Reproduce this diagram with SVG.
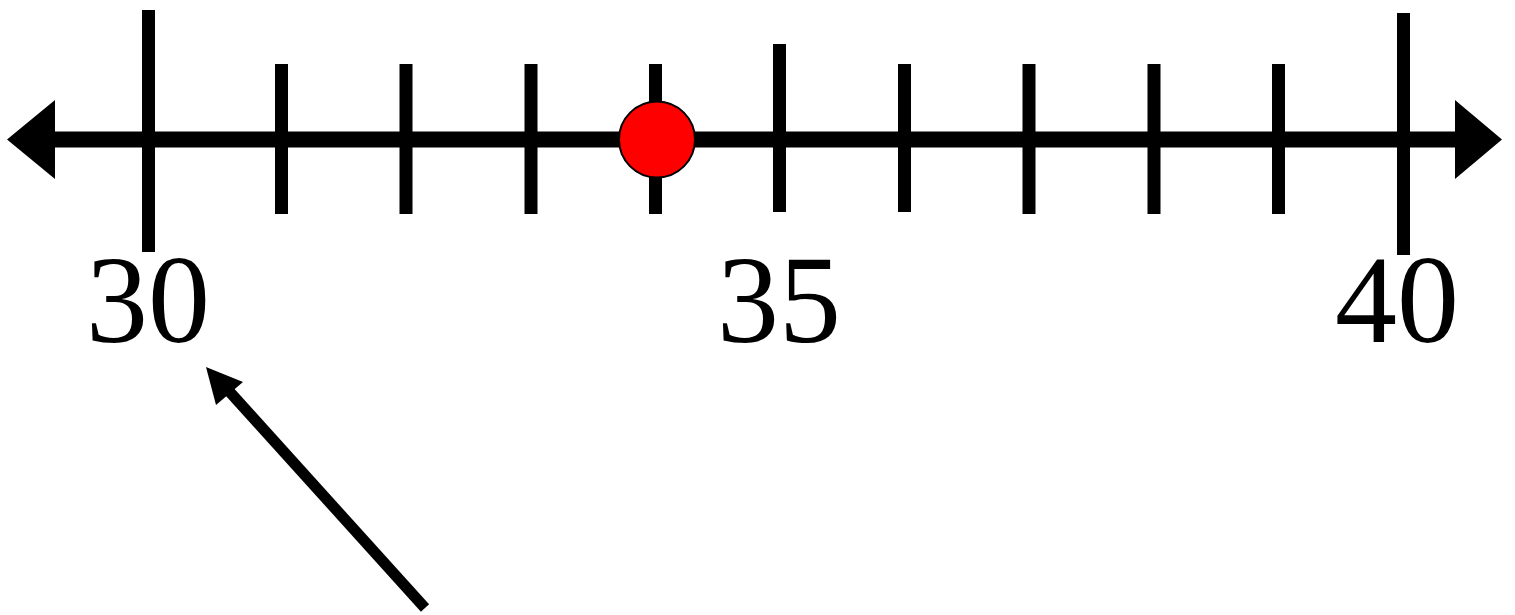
<svg xmlns="http://www.w3.org/2000/svg" width="1515" height="615" viewBox="0 0 1515 615">
<style>
.tick{stroke:#000;stroke-width:13;fill:none}
.lbl{font-family:"Liberation Serif","Times New Roman",serif;font-size:124px;fill:#000;text-anchor:middle}
</style>
<rect width="1515" height="615" fill="#fff"/>
<g id="connectors">
<line x1="50" y1="139.5" x2="1460" y2="139.5" stroke="#000" stroke-width="16"/>
<polygon points="7,139.5 55,100 55,179" fill="#000"/>
<polygon points="1502,139.5 1455,100 1455,179" fill="#000"/>
<line x1="425" y1="608" x2="228" y2="390" stroke="#000" stroke-width="11"/>
<polygon points="206,367 243,382 216,405" fill="#000"/>
</g>
<g id="ticks">
<line class="tick" x1="148.5" y1="10" x2="148.5" y2="252"/>
<line class="tick" x1="281.5" y1="64" x2="281.5" y2="214"/>
<line class="tick" x1="406" y1="64" x2="406" y2="214"/>
<line class="tick" x1="531" y1="64" x2="531" y2="214"/>
<line class="tick" x1="655.5" y1="64" x2="655.5" y2="214"/>
<line class="tick" x1="779.5" y1="44" x2="779.5" y2="212"/>
<line class="tick" x1="904.5" y1="64" x2="904.5" y2="212"/>
<line class="tick" x1="1029" y1="64" x2="1029" y2="214"/>
<line class="tick" x1="1154" y1="64" x2="1154" y2="214"/>
<line class="tick" x1="1278.5" y1="64" x2="1278.5" y2="214"/>
<line class="tick" x1="1403.5" y1="13" x2="1403.5" y2="255"/>
</g>
<g id="point">
<circle cx="657" cy="139.5" r="38" fill="#f00" stroke="#000" stroke-width="2"/>
</g>
<g id="labels">
<text class="lbl" x="148" y="342">30</text>
<text class="lbl" x="779" y="342">35</text>
<text class="lbl" x="1397" y="342">40</text>
</g>
</svg>
